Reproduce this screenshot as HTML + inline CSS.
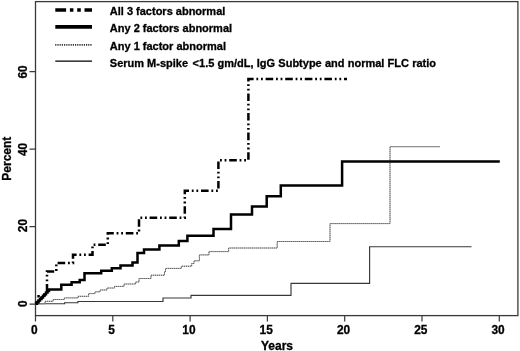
<!DOCTYPE html>
<html><head><meta charset="utf-8"><title>chart</title>
<style>
html,body{margin:0;padding:0;background:#fff;}
svg{display:block;}
text{font-family:"Liberation Sans",Arial,sans-serif;font-weight:bold;fill:#000;stroke:#000;stroke-width:0.3px;}
</style></head><body>
<svg width="520" height="351" viewBox="0 0 520 351">
<rect x="0" y="0" width="520" height="351" fill="#fff"/>
<rect x="35.5" y="1.6" width="482.4" height="314" fill="none" stroke="#3a3a3a" stroke-width="1.3"/>
<g stroke="#3a3a3a" stroke-width="1.2" fill="none">
<path d="M35.5,315.6V321.6 M112.8,315.6V321.6 M190.1,315.6V321.6 M267.4,315.6V321.6 M344.7,315.6V321.6 M422,315.6V321.6 M499.3,315.6V321.6"/>
<path d="M29.5,304.2H35.5 M29.5,226.65H35.5 M29.5,149.15H35.5 M29.5,71.65H35.5"/>
</g>
<g font-size="11.9" text-anchor="middle">
<text x="34.3" y="333.6">0</text>
<text x="111.6" y="333.6">5</text>
<text x="188.9" y="333.6">10</text>
<text x="266.2" y="333.6">15</text>
<text x="343.5" y="333.6">20</text>
<text x="420.8" y="333.6">25</text>
<text x="498.1" y="333.6">30</text>
<text transform="translate(27.4,303.65) rotate(-90)">0</text>
<text transform="translate(27.4,225.6) rotate(-90)">20</text>
<text transform="translate(27.4,149.4) rotate(-90)">40</text>
<text transform="translate(27.4,72.0) rotate(-90)">60</text>
</g>
<text x="277" y="349.5" font-size="12" text-anchor="middle">Years</text>
<text transform="translate(10.6,158.7) rotate(-90)" font-size="12" text-anchor="middle">Percent</text>
<!-- legend -->
<g fill="none">
<path d="M55.3,10H92" stroke="#000" stroke-width="3.5" stroke-dasharray="10.8 3.8 3.5 3.8 3.6 3.7 20"/>
<path d="M55.3,26.9H92" stroke="#000" stroke-width="3.6"/>
<path d="M55.2,44.85H92" stroke="#333" stroke-width="1.6" stroke-dasharray="1.2 1"/>
<path d="M55.3,61.1H92" stroke="#000" stroke-width="1.35"/>
</g>
<g font-size="11">
<text x="109.8" y="14.9">All 3 factors abnormal</text>
<text x="109.8" y="31.6">Any 2 factors abnormal</text>
<text x="109.8" y="49.7">Any 1 factor abnormal</text>
<text x="109.8" y="67.0" xml:space="preserve">Serum M-spike <tspan dx="1.5" style="word-spacing:0.15px">&lt;1.5 gm/dL, IgG Subtype and normal FLC ratio</tspan></text>
</g>
<!-- curves -->
<rect x="37.3" y="295" width="2.5" height="2.5" fill="#000"/>
<g fill="none" stroke-linejoin="miter">
<path d="M35.5,303.75 H64.6 V302.7 H77.9 V301.5 H163 V298 H191 V295.4 H291 V283.3 H369.6 V246.7 H471.5" stroke="#383838" stroke-width="1.15"/>
<path d="M35.5,303.75 H45 V301.3 H53 V299.5 H64.4 V297.9 H77.9 V296.3 H88.6 V293.6 H95 V291.8 H100 V290 H107 V288 H114.5 V286.4 H124 V284 H135.6 V282 H139 V278.5 H151 V275.2 H164.5 V271.8 H165.5 V268.4 H181.4 V266.2 H191.7 V263.5 H194 V260.8 H199.4 V254.9 H208.9 V251.6 H228.6 V248 H277.2 V241.5 H330 V223.6 H390 V146.7 H440" stroke="#b0b0b0" stroke-width="1"/>
<path d="M35.5,303.75 H45 V301.3 H53 V299.5 H64.4 V297.9 H77.9 V296.3 H88.6 V293.6 H95 V291.8 H100 V290 H107 V288 H114.5 V286.4 H124 V284 H135.6 V282 H139 V278.5 H151 V275.2 H164.5 V271.8 H165.5 V268.4 H181.4 V266.2 H191.7 V263.5 H194 V260.8 H199.4 V254.9 H208.9 V251.6 H228.6 V248 H277.2 V241.5 H330 V223.6 H390 V146.7 H440" stroke="#505050" stroke-width="1" stroke-dasharray="1 1"/>
<path d="M35.5,303.75 H37 V302.2 H38.5 V300.6 H40 V299 H41.5 V297.4 H43 V295.8 H44.5 V294.2 H46 V292.6 H47.5 V291 H49 V289.4 H61.3 V284.7 H71.6 V282.3 H79.7 V280 H84.5 V273.2 H101.2 V270.8 H111.8 V268.3 H120.5 V265.5 H132.5 V262.5 H137.5 V253 H144 V249.4 H159.4 V245.4 H178.8 V240.9 H187.4 V235.8 H213.5 V229 H231 V214.6 H252 V206.4 H266.7 V196.2 H280.8 V185.5 H342.1 V161.5 H499.8" stroke="#000" stroke-width="2.5"/>
<path d="M35.5,303.75 L38.05,301.2 L35.5,303.75 L47,292.3 H47 V271.6 H56.3 V263 H73 V254.8 H92.5 V244.8 H107.8 V233.2 H139 V217.8 H184.8 V190.8 H218.4 V160.2 H248.4 V79 H347" stroke="#000" stroke-width="2.5" stroke-dasharray="7.6 2.8 1.8 2.8 1.8 2.8" stroke-dashoffset="15.06"/>
</g>
</svg>
</body></html>
